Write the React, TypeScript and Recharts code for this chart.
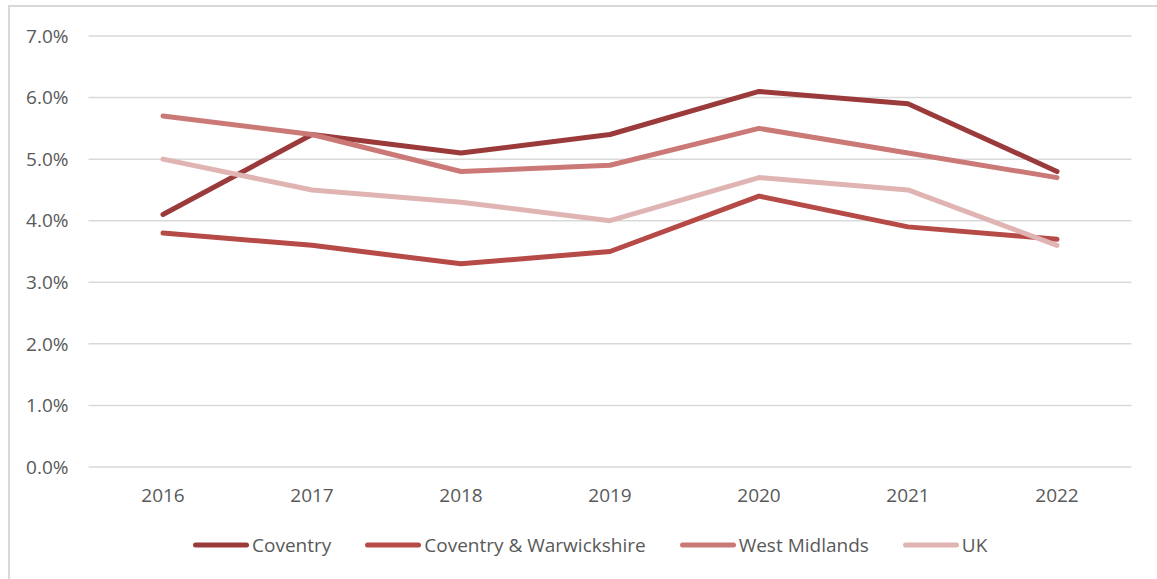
import { LineChart, Line, XAxis, YAxis, CartesianGrid } from 'recharts'

// Unemployment-style rate comparison, 2016-2022 (values in %).

const years = ['2016', '2017', '2018', '2019', '2020', '2021', '2022']
const coventry = [4.1, 5.4, 5.1, 5.4, 6.1, 5.9, 4.8]
const coventryWarwickshire = [3.8, 3.6, 3.3, 3.5, 4.4, 3.9, 3.7]
const westMidlands = [5.7, 5.4, 4.8, 4.9, 5.5, 5.1, 4.7]
const uk = [5.0, 4.5, 4.3, 4.0, 4.7, 4.5, 3.6]
const yTicks = [0, 1, 2, 3, 4, 5, 6, 7]

const SERIES = [
  { key: 'coventry', name: 'Coventry', values: coventry, color: '#9b3a3a' },
  { key: 'cw', name: 'Coventry & Warwickshire', values: coventryWarwickshire, color: '#b64a47' },
  { key: 'wm', name: 'West Midlands', values: westMidlands, color: '#cb7977' },
  { key: 'uk', name: 'UK', values: uk, color: '#e0b4b3' },
]

const rows = years.map((year, i) => {
  const row: Record<string, string | number> = { year }
  SERIES.forEach((s) => {
    row[s.key] = s.values[i]
  })
  return row
})

const FONT = '"Open Sans", "Noto Sans", sans-serif'
const TEXT = '#595959'
const FS = 19

export default function App() {
  return (
    <div
      style={{
        position: 'absolute',
        left: 0,
        top: 0,
        width: 1157,
        height: 579,
        overflow: 'hidden',
        background: '#fff',
        fontFamily: FONT,
      }}
    >
      <div
        style={{
          position: 'absolute',
          left: 8,
          top: 5,
          width: 1200,
          height: 620,
          border: '2px solid #d9d9d9',
        }}
      />
      <div style={{ position: 'absolute', left: 0, top: 0 }}>
        <LineChart
          width={1157}
          height={579}
          data={rows}
          margin={{ top: 36, right: 25.5, left: 0, bottom: 72 }}
        >
          <CartesianGrid vertical={false} stroke="#d9d9d9" strokeWidth={1.5} />
          <XAxis
            dataKey="year"
            axisLine={false}
            tickLine={false}
            tickSize={0}
            tickMargin={22}
            height={40}
            padding={{ left: 74.5, right: 74.5 }}
            tick={{ fill: TEXT, fontSize: FS, fontFamily: FONT }}
          />
          <YAxis
            domain={[0, 7]}
            ticks={yTicks}
            width={88.5}
            axisLine={false}
            tickLine={false}
            tickSize={0}
            tickMargin={20}
            tickFormatter={(v: number) => v.toFixed(1) + '%'}
            tick={{ fill: TEXT, fontSize: FS, fontFamily: FONT }}
          />
          {SERIES.map((s) => (
            <Line
              key={s.key}
              dataKey={s.key}
              name={s.name}
              stroke={s.color}
              strokeWidth={5}
              strokeLinecap="round"
              strokeLinejoin="round"
              dot={false}
              activeDot={false}
              isAnimationActive={false}
            />
          ))}
        </LineChart>
      </div>
      <div
        style={{
          position: 'absolute',
          left: 193,
          top: 531,
          height: 28,
          display: 'flex',
          alignItems: 'center',
          gap: 34,
          color: TEXT,
          fontSize: FS,
        }}
      >
        {SERIES.map((s) => (
          <div key={s.key} style={{ display: 'flex', alignItems: 'center', gap: 3 }}>
            <svg width={56} height={8}>
              <line x1={2.5} y1={4} x2={53.5} y2={4} stroke={s.color} strokeWidth={5} strokeLinecap="round" />
            </svg>
            <span>{s.name}</span>
          </div>
        ))}
      </div>
    </div>
  )
}
